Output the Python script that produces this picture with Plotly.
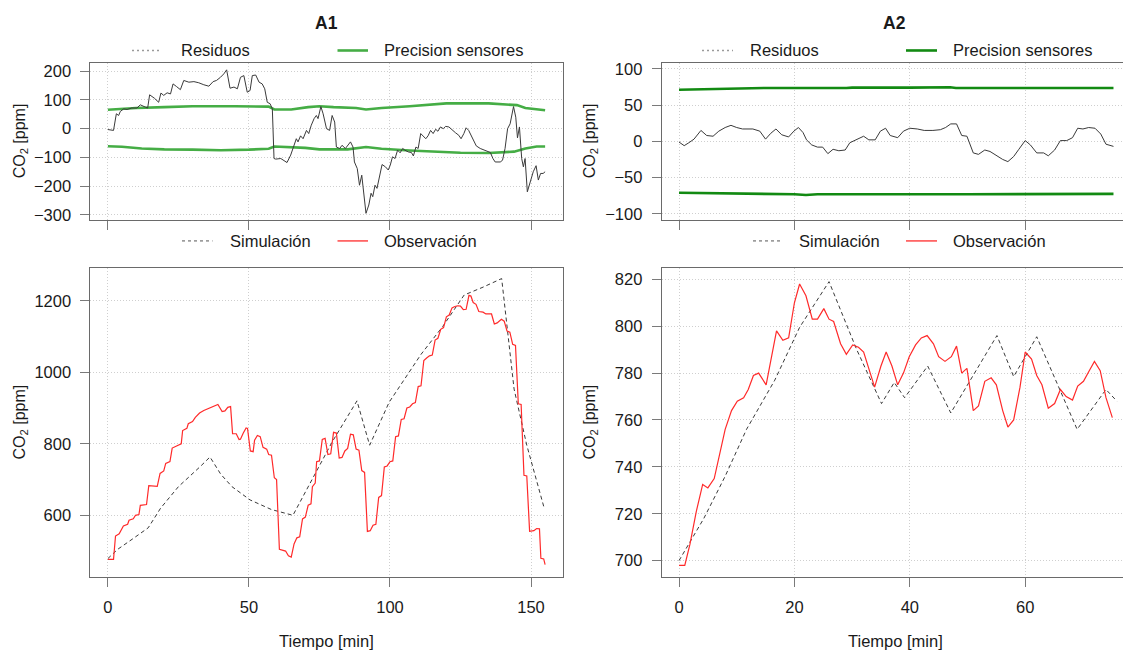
import plotly.graph_objects as go

# ---------------- A1 data ----------------
a1_res_t = [0, 2, 3, 3.8, 4.4, 5.6, 6.8, 8.5, 10.3, 11.5, 13.3, 14.1, 14.8, 16.5, 18, 18.8, 19.8, 21, 22.2, 23.1,
            24.3, 25.7, 26.9, 28.7, 30.5, 32.2, 34, 35.8, 37.3, 38.5, 39.9, 41.1, 42.1, 43.3, 44.7, 45.9, 47, 48.2,
            49.4, 50.4, 51.2, 52.4, 53.6, 54.7, 55.6, 56.5, 57.5, 58.3, 58.9, 59.5, 61.3, 63.5, 64.8, 65.6, 66.8,
            67.4, 68.3, 69.2, 70.4, 71.2, 72.1, 73.1, 73.9, 74.5, 75.5, 76.3, 77.5, 78.6, 79.5, 80.4, 81, 82.2, 83,
            84.2, 85.1, 86, 86.9, 87.4, 88.4, 89.2, 90, 91.5, 92.5, 93.3, 93.9, 94.7, 95.4, 96.2, 97.2, 98.4, 99.4,
            100.1, 100.9, 101.8, 102.7, 103.6, 104.5, 105.3, 106.5, 107.6, 108.3, 109.2, 110, 110.9, 111.9, 112.7,
            113.5, 114.4, 115.3, 116.2, 117, 117.9, 118.9, 119.7, 120.9, 122.1, 123.2, 124.4, 125.2, 126.2, 127,
            127.9, 128.9, 129.7, 130.6, 132, 133.8, 135.6, 136.5, 137.3, 139.1, 139.9, 140.8, 141.7, 142.6, 143.8,
            144.6, 145.2, 145.9, 146.7, 147.3, 147.9, 148.7, 149.6, 150.8, 151.8, 152.6, 153.4, 154.3, 155]
a1_res_v = [-3, -6, 52, 46, 60, 69, 67, 72, 72, 83, 75, 72, 118, 106, 92, 124, 116, 125, 121, 156,
            147, 136, 168, 162, 164, 160, 153, 148, 164, 168, 179, 191, 205, 141, 145, 139, 179, 185,
            127, 133, 185, 187, 162, 156, 139, 92, 87, 69, -104, -106, -104, -118, -92, -69, -35,
            -46, -25, -35, -6, -17, 12, 35, 46, 35, 77, 52, 0, -6, 46, 23, -64, -69, -58,
            -69, -58, -46, -64, -116, -139, -197, -162, -295, -266, -225, -237, -197, -208, -173, -125, -133, -144,
            -127, -98, -104, -75, -84, -69, -75, -81, -83, -95, -64, -69, -17, -29, -35,
            -25, -6, -17, -2, -9, 6, 0, 8, 6, -6, -14, -23, -35, -17, 3,
            -6, -25, -40, -60, -69, -75, -83, -104, -116, -116, -110, -69, 0, 17, 77,
            40, -32, 6, -104, -133, -104, -220, -191, -150, -129, -179, -156, -156, -150]

a1_prec_t = [0, 10, 20, 30, 45, 57, 59, 65, 71, 75, 80, 88, 91.5, 97, 107, 117, 120, 135, 142, 145, 148, 152, 155]
a1_prec_up = [66, 72, 75, 78, 78, 77, 67, 67, 75, 78, 75, 72, 67, 72, 78, 84, 88, 88, 84, 82, 72, 67, 64]
a1_prec_lo_t = [0, 5, 12, 20, 30, 40, 50, 57, 59, 65, 70, 75, 85, 91.5, 97, 107, 117, 125, 135, 140, 144, 148, 152, 155]
a1_prec_lo = [-61, -63, -69, -72, -73, -75, -73, -70, -62, -64, -67, -72, -72, -64, -70, -76, -81, -84, -85, -83, -80,
              -69, -62, -62]

a1_obs_t = [0, 2, 2.7, 4, 5.5, 7, 7.5, 9, 9.8, 11, 11.5, 13.7, 14.5, 17.5, 18.5, 19.8, 20.5, 22, 22.8, 24.5, 26,
            26.5, 28, 28.5, 30, 31, 32.5, 34, 36, 37.5, 39, 40.5, 41.5, 42.5, 43.5, 44.2, 45.5, 46.5, 47, 48, 49,
            49.5, 50.5, 51.5, 52, 53, 54, 55, 56.3, 57, 58, 59, 59.8, 60.8, 62, 63, 64, 65, 66, 67, 68, 69, 70,
            71, 72, 72.5, 73.5, 74, 75, 76, 77, 78, 79, 80, 81, 82, 83, 84, 85, 86, 87, 88, 89, 90, 91, 92, 93,
            94, 95, 96, 97, 98, 99, 100, 101, 102, 103, 104, 105, 106, 107, 108, 109, 110, 111, 112, 113, 114,
            115, 116, 117, 118, 119, 120, 121, 122, 123, 124, 125, 126, 127, 128, 128.7, 129.5, 130.5, 131.5,
            133, 134, 136, 137, 138, 139.5, 140.5, 141.5, 142.5, 143.5, 144.5, 145.5, 146.5, 147.5, 148.5,
            149.5, 151, 152, 153, 153.5, 154.5, 155]
a1_obs_v = [477, 477, 542, 548, 570, 575, 586, 590, 600, 602, 628, 630, 683, 681, 717, 724, 745, 750, 788, 795, 800,
            837, 843, 856, 862, 874, 886, 893, 900, 906, 910, 890, 892, 902, 904, 828, 828, 812, 813, 830, 844,
            843, 780, 778, 810, 823, 820, 790, 785, 770, 768, 705, 700, 505, 503, 500, 487, 483, 520, 537, 540,
            590, 595, 628, 632, 680, 690, 750, 752, 812, 815, 770, 772, 832, 830, 760, 762, 780, 787, 827, 825,
            785, 782, 725, 720, 555, 557, 572, 575, 650, 655, 735, 738, 750, 752, 820, 822, 868, 870, 900, 903,
            912, 915, 960, 962, 1033, 1040, 1046, 1048, 1090, 1095, 1120, 1125, 1155, 1160, 1180, 1184, 1186,
            1185, 1175, 1176, 1215, 1213, 1195, 1190, 1170, 1168, 1163, 1163, 1135, 1138, 1148, 1143, 1115,
            1112, 1078, 1075, 912, 910, 712, 710, 555, 557, 563, 562, 480, 478, 462]

a1_sim_t = [0, 3.5, 8.6, 14.3, 18.7, 25, 32.7, 36.2, 40, 44, 50.4, 58, 65.6, 72, 79.5, 88.3, 92.8, 99.7, 111,
            118.7, 126.3, 133, 139.6, 144, 148.5, 154.5]
a1_sim_v = [479, 505, 533, 565, 620, 680, 736, 763, 715, 680, 643, 616, 600, 694, 805, 920, 796, 916, 1050,
            1128, 1216, 1238, 1262, 953, 796, 625]

# ---------------- A2 data ----------------
a2_res_t = [0, 0.9, 1.7, 2.6, 3.8, 4.8, 5.9, 6.9, 8, 9, 10, 11, 12.8, 14, 15, 15.9, 16.8, 17.8, 19, 19.9, 20.7,
            21.5, 22.1, 23, 24, 24.9, 25.8, 26.7, 27.7, 28.8, 29.6, 30.6, 32, 32.9, 34, 34.9, 35.8, 36.6, 37.9,
            38.9, 40, 41.3, 42.5, 44, 45.3, 46.2, 47.1, 48.1, 49, 49.9, 51, 51.9, 53, 53.9, 55.2, 56.1, 57, 58,
            58.9, 60, 60.9, 62, 63.2, 64, 65.1, 66.1, 67.2, 68.2, 69.1, 70, 71, 72.1, 73.1, 74, 75.3]
a2_res_v = [-1, -6, -2, 3, 15, 8, 7, 14, 19, 22, 19, 17, 17, 14, 3, 11, 17, 9, 6, 14, 19,
            12, 2, -5, -8, -8, -17, -11, -13, -12, -2, 2, 7, 2, 2, 14, 18, 8, 5,
            14, 18, 17, 15, 15, 16, 19, 24, 24, 8, 7, -16, -18, -12, -14, -21, -25, -28, -21,
            -11, 1, -5, -16, -16, -20, -12, 1, 1, 5, 18, 17, 19, 18, 10, -4, -7]

a2_prec_up_t = [0, 4, 6, 14, 15, 29, 30, 40, 47, 48, 75.3]
a2_prec_up = [71, 71.5, 72, 72.5, 73.5, 73.5, 74, 74, 74.5, 73.5, 73.5]
a2_prec_lo_t = [0, 10, 12, 20, 22, 24, 50, 75.3]
a2_prec_lo = [-71, -71.5, -72.5, -73, -74, -73, -73, -72.5]

a2_obs_t = [0, 1, 1.9, 3, 4.1, 5, 6.1, 7, 8, 9.1, 10.1, 11.2, 12, 12.9, 13.8, 15.1, 16, 16.9, 18, 19, 20, 20.9,
            22, 23.1, 24, 25.1, 26, 26.8, 28, 29, 30.1, 31.1, 32, 33, 33.9, 35, 35.9, 36.9, 37.9, 38.9, 39.9, 41,
            42, 43, 44.1, 45, 46.1, 47.2, 48.1, 49, 49.9, 51, 51.9, 53, 54.1, 55, 56.1, 57, 58, 59.1, 60, 61.1,
            62, 62.9, 64, 65.1, 66.1, 67.1, 68.2, 69.1, 70.1, 71.1, 72, 73, 74, 75.1]
a2_obs_v = [698, 698, 707, 721, 732.5, 731, 735, 745, 756, 764, 768, 769.5, 773, 779, 780, 775, 786, 798, 794, 795,
            810, 818, 813, 803, 803, 807.5, 803, 802, 792.5, 788, 792, 791, 789, 781, 774, 783, 789, 783, 775,
            780, 787, 792, 795, 796, 792.5, 787, 785, 787, 791.5, 780, 782, 764, 766, 776.5, 778, 775, 764, 757,
            760, 774, 789, 786, 779, 775, 765, 767, 773, 770, 768.5, 774.5, 776.5, 781, 785, 781, 769.5, 761]

a2_sim_t = [0, 4.3, 8, 11.7, 16.6, 20.9, 26, 30.8, 35.1, 37.3, 39.1, 43.1, 47.1, 55.1, 58, 62, 69, 74, 75.9]
a2_sim_v = [700, 718, 736, 756, 777, 799.5, 819, 790, 767, 776, 769.5, 783, 763, 796, 778.5, 795.5, 756, 773, 768]

# ---------------- styling ----------------
W, H = 1123, 655
FONT = "Liberation Sans, Arial, Helvetica, sans-serif"
TXT = "#1a1a1a"
GRID = "#cfcfcf"
GRIDDASH = "1px,2px"
BOX = "#6a6a6a"
GREEN_A1 = "#45ad45"
GREEN_A2 = "#128a12"
RED = "#ff2a2a"
SIMC = "#3a3a3a"
RESC = "#3a3a3a"
TICKF = 16.5


def px_x(p):
    return p / W


def px_y(p):
    return 1 - p / H


fig = go.Figure()

# top-left
fig.add_trace(go.Scatter(x=a1_prec_t, y=a1_prec_up, mode="lines", line=dict(color=GREEN_A1, width=2.6),
                         xaxis="x", yaxis="y", showlegend=False))
fig.add_trace(go.Scatter(x=a1_prec_lo_t, y=a1_prec_lo, mode="lines", line=dict(color=GREEN_A1, width=2.6),
                         xaxis="x", yaxis="y", showlegend=False))
fig.add_trace(go.Scatter(x=a1_res_t, y=a1_res_v, mode="lines", line=dict(color=RESC, width=1),
                         xaxis="x", yaxis="y", showlegend=False))
# top-right
fig.add_trace(go.Scatter(x=a2_prec_up_t, y=a2_prec_up, mode="lines", line=dict(color=GREEN_A2, width=2.6),
                         xaxis="x2", yaxis="y2", showlegend=False))
fig.add_trace(go.Scatter(x=a2_prec_lo_t, y=a2_prec_lo, mode="lines", line=dict(color=GREEN_A2, width=2.6),
                         xaxis="x2", yaxis="y2", showlegend=False))
fig.add_trace(go.Scatter(x=a2_res_t, y=a2_res_v, mode="lines", line=dict(color=RESC, width=1),
                         xaxis="x2", yaxis="y2", showlegend=False))
# bottom-left
fig.add_trace(go.Scatter(x=a1_sim_t, y=a1_sim_v, mode="lines", line=dict(color=SIMC, width=1, dash="4px,3px"),
                         xaxis="x3", yaxis="y3", showlegend=False))
fig.add_trace(go.Scatter(x=a1_obs_t, y=a1_obs_v, mode="lines", line=dict(color=RED, width=1.2),
                         xaxis="x3", yaxis="y3", showlegend=False))
# bottom-right
fig.add_trace(go.Scatter(x=a2_sim_t, y=a2_sim_v, mode="lines", line=dict(color=SIMC, width=1, dash="4px,3px"),
                         xaxis="x4", yaxis="y4", showlegend=False))
fig.add_trace(go.Scatter(x=a2_obs_t, y=a2_obs_v, mode="lines", line=dict(color=RED, width=1.2),
                         xaxis="x4", yaxis="y4", showlegend=False))

LX = [px_x(90.4), px_x(562.6)]
RX = [px_x(661.7), 1.0]
TY = [px_y(219), px_y(60.6)]
BY = [px_y(580), px_y(267.7)]


def xax(domain, rng, ticks, labels, anchor):
    return dict(domain=domain, range=rng, tickvals=ticks, showticklabels=labels, anchor=anchor,
                showline=True, linecolor=BOX, linewidth=1, mirror=True, ticks="outside", ticklen=9,
                tickcolor="#7a7a7a", tickwidth=1, showgrid=True, gridcolor=GRID, griddash=GRIDDASH, gridwidth=1,
                zeroline=False, tickfont=dict(family=FONT, size=TICKF, color=TXT), ticklabelstandoff=6)


def yax(domain, rng, ticks, anchor, mirror):
    return dict(domain=domain, range=rng, tickvals=ticks, anchor=anchor,
                showline=True, linecolor=BOX, linewidth=1, mirror=mirror, ticks="outside", ticklen=9,
                tickcolor="#7a7a7a", tickwidth=1, showgrid=True, gridcolor=GRID, griddash=GRIDDASH, gridwidth=1,
                zeroline=False, tickfont=dict(family=FONT, size=TICKF, color=TXT), ticklabelstandoff=6)


fig.update_layout(
    width=W, height=H, autosize=False, margin=dict(l=0, r=0, t=0, b=0),
    paper_bgcolor="white", plot_bgcolor="white", showlegend=False,
    xaxis=xax(LX, [-6.2, 161.2], [0, 50, 100, 150], False, "y"),
    yaxis=yax(TY, [-317, 229], [-300, -200, -100, 0, 100, 200], "x", True),
    xaxis2=xax(RX, [-3, 76.95], [0, 20, 40, 60], False, "y2"),
    yaxis2=yax(TY, [-108, 108], [-100, -50, 0, 50, 100], "x2", False),
    xaxis3=xax(LX, [-6.2, 161.2], [0, 50, 100, 150], True, "y3"),
    yaxis3=yax(BY, [428, 1292], [600, 800, 1000, 1200], "x3", True),
    xaxis4=xax(RX, [-3, 76.95], [0, 20, 40, 60], True, "y4"),
    yaxis4=yax(BY, [693.1, 824.9], [700, 720, 740, 760, 780, 800, 820], "x4", False),
)

ann = []
shapes = []


def text(x, y, s, size=16, anchor="center", bold=False, angle=0):
    ann.append(dict(x=px_x(x), y=px_y(y), xref="paper", yref="paper", text=("<b>%s</b>" % s) if bold else s,
                    showarrow=False, xanchor=anchor, yanchor="middle", textangle=angle,
                    font=dict(family=FONT, size=size, color=TXT)))


def seg(x0, x1, y, color, width, dash="solid"):
    shapes.append(dict(type="line", xref="paper", yref="paper", x0=px_x(x0), x1=px_x(x1), y0=px_y(y), y1=px_y(y),
                       line=dict(color=color, width=width, dash=dash)))


# titles
text(326.5, 20, "A1", size=17.5, bold=True)
text(894, 20, "A2", size=17.5, bold=True)

# legends (top)
seg(132, 162, 48, "#9a9a9a", 1.3, "2px,3px")
text(178.6, 48, "Residuos", size=16.5, anchor="left")
seg(337.5, 368, 48, GREEN_A1, 2.6)
text(382, 48, "Precision sensores", size=16.5, anchor="left")
seg(702, 733, 48, "#9a9a9a", 1.3, "2px,3px")
text(747.5, 48, "Residuos", size=16.5, anchor="left")
seg(906, 937, 48, GREEN_A2, 2.6)
text(951, 48, "Precision sensores", size=16.5, anchor="left")

# legends (bottom)
seg(182, 212.5, 240.5, "#555555", 1, "3px,3px")
text(227.5, 240.5, "Simulación", size=16.5, anchor="left")
seg(337.5, 368, 240.5, RED, 1.3)
text(382, 240.5, "Observación", size=16.5, anchor="left")
seg(753, 783, 240.5, "#555555", 1, "3px,3px")
text(797, 240.5, "Simulación", size=16.5, anchor="left")
seg(906, 937, 240.5, RED, 1.3)
text(951, 240.5, "Observación", size=16.5, anchor="left")

# axis titles
ylab = "CO<sub>2</sub> [ppm]"
text(20, 139.8, ylab, size=16, angle=-90)
text(20, 424, ylab, size=16, angle=-90)
text(590, 139.8, ylab, size=16, angle=-90)
text(590, 424, ylab, size=16, angle=-90)
text(326.5, 645, "Tiempo [min]", size=16.5)
text(895, 645, "Tiempo [min]", size=16.5)

fig.update_layout(annotations=ann, shapes=shapes)

fig.write_html("out.html", config={"displayModeBar": False},
               post_script="document.body.style.margin='0';document.body.style.padding='0';")
